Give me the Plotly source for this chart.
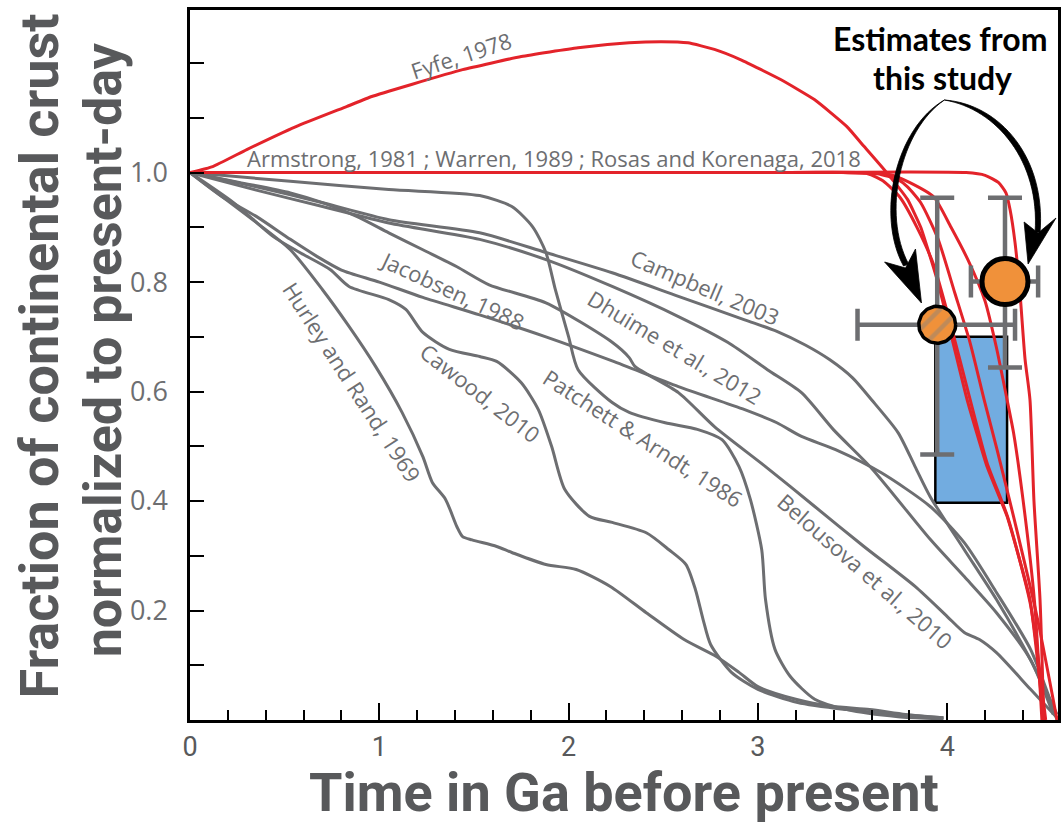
import plotly.graph_objects as go
import numpy as np

# ---------------- data (Ga before present, fraction of present-day crust) ----------------
hurley_x = [0, 0.35, 0.53, 0.70, 0.84, 0.98, 1.12, 1.23, 1.28, 1.35, 1.41, 1.44, 1.49, 1.62, 1.70, 1.88, 2.04, 2.22, 2.41, 2.61, 2.78, 2.90, 3.00, 3.20, 3.39, 3.59, 3.78, 3.98]
hurley_y = [1.0, 0.909, 0.859, 0.786, 0.719, 0.646, 0.562, 0.481, 0.434, 0.403, 0.353, 0.335, 0.329, 0.317, 0.306, 0.284, 0.275, 0.244, 0.196, 0.147, 0.116, 0.087, 0.061, 0.038, 0.025, 0.019, 0.010, 0.004]

cawood_x = [0, 0.23, 0.44, 0.58, 0.74, 0.84, 1.05, 1.14, 1.23, 1.37, 1.53, 1.62, 1.75, 1.84, 1.91, 1.98, 2.11, 2.23, 2.41, 2.53, 2.62, 2.67, 2.71, 2.75, 2.86, 3.00, 3.21, 3.47, 3.74, 3.98]
cawood_y = [1.0, 0.945, 0.883, 0.854, 0.823, 0.792, 0.768, 0.750, 0.708, 0.677, 0.664, 0.655, 0.616, 0.567, 0.500, 0.421, 0.372, 0.361, 0.342, 0.311, 0.284, 0.238, 0.184, 0.138, 0.087, 0.056, 0.032, 0.019, 0.010, 0.004]

jacobsen_x = [0, 0.17, 0.35, 0.53, 0.67, 0.80, 1.00, 1.23, 1.53, 1.88, 2.23, 2.58, 2.93, 3.10, 3.23, 3.41, 3.65, 3.91, 4.09, 4.26, 4.44, 4.54, 4.58]
jacobsen_y = [1.0, 0.956, 0.920, 0.878, 0.847, 0.822, 0.800, 0.772, 0.740, 0.700, 0.656, 0.609, 0.567, 0.543, 0.518, 0.494, 0.452, 0.390, 0.324, 0.233, 0.129, 0.040, 0.0]

belousova_x = [0, 0.26, 0.53, 0.70, 0.88, 1.05, 1.23, 1.41, 1.58, 1.88, 2.23, 2.32, 2.35, 2.58, 2.77, 3.04, 3.30, 3.56, 3.83, 4.00, 4.09, 4.17, 4.26, 4.44, 4.58]
belousova_y = [1.0, 0.982, 0.963, 0.945, 0.920, 0.890, 0.859, 0.828, 0.795, 0.762, 0.690, 0.662, 0.646, 0.598, 0.536, 0.463, 0.390, 0.317, 0.244, 0.189, 0.160, 0.147, 0.123, 0.056, 0.004]

campbell_x = [0, 0.35, 0.70, 1.05, 1.53, 1.88, 2.23, 2.58, 2.93, 3.10, 3.25, 3.38, 3.50, 3.60, 3.74, 3.83, 3.91, 4.09, 4.26, 4.44, 4.58]
campbell_y = [1.0, 0.974, 0.945, 0.914, 0.890, 0.854, 0.817, 0.774, 0.731, 0.710, 0.685, 0.658, 0.625, 0.585, 0.525, 0.463, 0.408, 0.311, 0.220, 0.110, 0.010]

dhuime_x = [0, 0.35, 0.70, 1.05, 1.53, 1.88, 2.23, 2.58, 2.84, 3.05, 3.23, 3.40, 3.60, 3.91, 4.09, 4.26, 4.44, 4.56]
dhuime_y = [1.0, 0.968, 0.938, 0.908, 0.878, 0.841, 0.792, 0.737, 0.690, 0.640, 0.598, 0.530, 0.460, 0.330, 0.262, 0.196, 0.110, 0.010]

patchett_x = [0, 0.53, 1.05, 1.53, 1.70, 1.81, 1.88, 1.93, 2.00, 2.05, 2.23, 2.32, 2.51, 2.68, 2.81, 2.90, 2.96, 3.02, 3.04, 3.09, 3.17, 3.30, 3.47, 3.74, 3.98]
patchett_y = [1.0, 0.984, 0.969, 0.958, 0.938, 0.901, 0.854, 0.786, 0.700, 0.640, 0.580, 0.562, 0.543, 0.531, 0.512, 0.463, 0.403, 0.311, 0.220, 0.129, 0.080, 0.038, 0.019, 0.006, 0.002]

fyfe_x = [0, 0.12, 0.30, 0.56, 0.83, 0.96, 1.17, 1.44, 1.75, 2.05, 2.32, 2.49, 2.63, 2.77, 2.91, 3.12, 3.30, 3.47, 3.56, 3.68, 3.79, 3.86, 3.95, 4.03, 4.105, 4.21, 4.316, 4.437, 4.51]
fyfe_y = [1.0, 1.011, 1.042, 1.084, 1.121, 1.139, 1.161, 1.188, 1.212, 1.228, 1.237, 1.239, 1.237, 1.225, 1.206, 1.170, 1.133, 1.084, 1.048, 1.0, 0.951, 0.900, 0.800, 0.690, 0.585, 0.463, 0.372, 0.220, 0.0]

armstrong_x = [0, 1.5, 3.0, 3.40, 3.58, 3.66, 3.75, 3.84, 3.93, 4.02, 4.11, 4.21, 4.32, 4.44, 4.52]
armstrong_y = [1.0, 1.0, 1.0, 1.0, 0.998, 0.985, 0.955, 0.900, 0.830, 0.720, 0.600, 0.470, 0.370, 0.210, 0.0]

warren_x = [0, 1.5, 3.0, 3.45, 3.63, 3.74, 3.79, 3.86, 3.95, 4.04, 4.12, 4.195, 4.263, 4.35, 4.474, 4.58]
warren_y = [1.0, 1.0, 1.0, 1.0, 0.998, 0.987, 0.974, 0.945, 0.880, 0.780, 0.690, 0.585, 0.494, 0.372, 0.189, 0.0]

rosas_a_x = [0, 1.5, 3.0, 3.55, 3.70, 3.80, 3.93, 4.02, 4.11, 4.20, 4.26, 4.316, 4.35, 4.40, 4.46, 4.50]
rosas_a_y = [1.0, 1.0, 1.0, 1.0, 0.996, 0.982, 0.955, 0.900, 0.840, 0.765, 0.680, 0.585, 0.525, 0.403, 0.220, 0.0]

rosas_b_x = [0, 1.5, 3.0, 4.10, 4.20, 4.27, 4.31, 4.332, 4.358, 4.384, 4.411, 4.437, 4.458, 4.49, 4.51]
rosas_b_y = [1.0, 1.0, 1.0, 1.0, 0.995, 0.982, 0.963, 0.932, 0.872, 0.781, 0.659, 0.585, 0.400, 0.220, 0.0]

# estimates from this study
est_x = [3.947, 4.305]
est_y = [0.722, 0.801]
est_x_minus = [0.421, 0.180]
est_x_plus = [0.411, 0.175]
est_y_minus = [0.237, 0.157]
est_y_plus = [0.232, 0.153]
box_x = [3.937, 4.316]
box_y = [0.397, 0.700]

x_ticks = [0, 1, 2, 3, 4]
y_ticks = [0.1, 0.2, 0.3, 0.4, 0.5, 0.6, 0.7, 0.8, 0.9, 1.0, 1.1, 1.2]
y_ticktext = ['', '0.2', '', '0.4', '', '0.6', '', '0.8', '', '1.0', '', '']

# ---------------- layout constants ----------------
W, H = 1063, 830
L, R, T, B = 190, 2, 10, 110
X_MAX, Y_MAX = 4.585, 1.297
PW, PH = W - L - R, H - T - B

GRAY = '#6d6e71'
RED = '#e3232a'
TITLE_GRAY = '#58595b'
TITLE_FONT = 'Roboto, sans-serif'
LABEL_FONT = 'Open Sans, Noto Sans, sans-serif'


def P(px, py):
    """pixel (page) position -> data coordinates (for decorations only)"""
    return ((px - L) / PW * X_MAX, (H - B - py) / PH * Y_MAX)


def path_str(cmds):
    out = []
    for c in cmds:
        if isinstance(c, str):
            out.append(c)
        else:
            x, y = P(*c)
            out.append(f"{x:.5f},{y:.5f}")
    return ' '.join(out)


fig = go.Figure()

gray_series = [
    (hurley_x, hurley_y), (cawood_x, cawood_y), (jacobsen_x, jacobsen_y),
    (belousova_x, belousova_y), (campbell_x, campbell_y), (dhuime_x, dhuime_y),
    (patchett_x, patchett_y),
]
for xs, ys in gray_series:
    fig.add_trace(go.Scatter(x=xs, y=ys, mode='lines',
                             line=dict(color=GRAY, width=3, shape='spline', smoothing=0.7),
                             hoverinfo='skip'))

red_series = [(armstrong_x, armstrong_y), (warren_x, warren_y), (rosas_a_x, rosas_a_y),
              (rosas_b_x, rosas_b_y)]
for xs, ys in red_series:
    fig.add_trace(go.Scatter(x=xs, y=ys, mode='lines',
                             line=dict(color=RED, width=3, shape='spline', smoothing=0.6),
                             hoverinfo='skip'))
fig.add_trace(go.Scatter(x=fyfe_x, y=fyfe_y, mode='lines',
                         line=dict(color=RED, width=3, shape='spline', smoothing=0.4),
                         hoverinfo='skip'))

# error bars
fig.add_trace(go.Scatter(
    x=est_x, y=est_y, mode='markers',
    marker=dict(size=1, color='rgba(0,0,0,0)'),
    error_x=dict(type='data', symmetric=False, array=est_x_plus, arrayminus=est_x_minus,
                 color=GRAY, thickness=4.5, width=16),
    error_y=dict(type='data', symmetric=False, array=est_y_plus, arrayminus=est_y_minus,
                 color=GRAY, thickness=4.5, width=17),
    hoverinfo='skip'))

# hatched small circle (polygon so that it can carry a fill pattern)
r_px = 18.5
t = np.linspace(0, 2 * np.pi, 73)
cx, cy = est_x[0], est_y[0]
circ_x = cx + r_px / PW * X_MAX * np.cos(t)
circ_y = cy + r_px / PH * Y_MAX * np.sin(t)
fig.add_trace(go.Scatter(
    x=circ_x, y=circ_y, mode='lines', fill='toself',
    fillcolor='#f0913a',
    fillpattern=dict(shape='/', fgcolor='#8e8478', bgcolor='#f0913a', size=14, solidity=0.32),
    line=dict(color='black', width=3.5), hoverinfo='skip'))

# big circle
fig.add_trace(go.Scatter(
    x=[est_x[1]], y=[est_y[1]], mode='markers',
    marker=dict(size=46, color='#f0913a', line=dict(color='black', width=5)),
    hoverinfo='skip'))

shapes = []
# blue box
shapes.append(dict(type='rect', xref='x', yref='y', x0=box_x[0], x1=box_x[1], y0=box_y[0], y1=box_y[1],
                   fillcolor='#72ace0', line=dict(color='black', width=2.5), layer='below'))

# curved arrows (tapered shafts + barbed heads)
left_shaft = path_str(['M', (947, 100), 'C', (898, 128), (878, 215), (906, 266), 'L', (911, 264),
                       'C', (884, 213), (903, 130), (947, 100), 'Z'])
right_shaft = path_str(['M', (947, 100), 'C', (1003, 104), (1049, 158), (1043, 232), 'L', (1038, 232),
                        'C', (1043, 162), (1000, 109), (947, 100), 'Z'])
left_head = path_str(['M', (887, 262), 'L', (924, 303), 'L', (918, 249), 'L', (908, 268), 'Z'])
right_head = path_str(['M', (1027, 222), 'L', (1031, 264), 'L', (1059, 218), 'L', (1041, 233), 'Z'])
for pth in (left_shaft, right_shaft, left_head, right_head):
    shapes.append(dict(type='path', xref='x', yref='y', path=pth, fillcolor='black',
                       line=dict(color='black', width=0.8)))

annotations = []
curve_labels = [
    ('Fyfe, 1978', 462, 55, -18),
    ('Armstrong, 1981 ; Warren, 1989 ; Rosas and Korenaga, 2018', 555, 158, 0),
    ('Campbell, 2003', 707, 287, 23),
    ('Dhuime et al., 2012', 677, 347, 31),
    ('Jacobsen, 1988', 453, 290, 25),
    ('Hurley and Rand, 1969', 353, 382, 57),
    ('Cawood, 2010', 482, 393, 38),
    ('Patchett &amp; Arndt, 1986', 645, 438, 33),
    ('Belousova et al., 2010', 868, 571, 41),
]
for txt, px, py, ang in curve_labels:
    xd, yd = P(px, py)
    annotations.append(dict(x=xd, y=yd, xref='x', yref='y', text=txt, showarrow=False,
                            textangle=ang, xanchor='center', yanchor='middle',
                            font=dict(family=LABEL_FONT, size=22, color=GRAY)))

for txt, px, py in (('Estimates from', 943, 38), ('this study', 945, 77)):
    xd, yd = P(px, py)
    annotations.append(dict(x=xd, y=yd, xref='x', yref='y', text=f'<b>{txt}</b>', showarrow=False,
                            xanchor='center', yanchor='middle',
                            font=dict(family='Lato, sans-serif', size=32, color='black')))

# axis titles
annotations.append(dict(x=0.5, y=(H - B - 792) / PH, xref='paper', yref='paper',
                        text='<b>Time in Ga before present</b>', showarrow=False,
                        xanchor='center', yanchor='middle',
                        font=dict(family=TITLE_FONT, size=54, color=TITLE_GRAY)))
annotations.append(dict(x=(38 - L) / PW, y=(H - B - 356) / PH, xref='paper', yref='paper',
                        text='<b>Fraction of continental crust</b>', showarrow=False, textangle=-90,
                        xanchor='center', yanchor='middle',
                        font=dict(family=TITLE_FONT, size=54, color=TITLE_GRAY)))
annotations.append(dict(x=(103 - L) / PW, y=(H - B - 350) / PH, xref='paper', yref='paper',
                        text='<b>normalized to present-day</b>', showarrow=False, textangle=-90,
                        xanchor='center', yanchor='middle',
                        font=dict(family=TITLE_FONT, size=52, color=TITLE_GRAY)))

fig.update_layout(
    width=W, height=H,
    margin=dict(l=L, r=R, t=T, b=B),
    plot_bgcolor='white', paper_bgcolor='white',
    showlegend=False,
    shapes=shapes,
    annotations=annotations,
    xaxis=dict(range=[0, X_MAX], showline=True, linecolor='black', linewidth=2.5, mirror=True,
               ticks='inside', ticklen=17, tickwidth=2, tickcolor='black',
               tickvals=x_ticks, ticktext=[str(v) for v in x_ticks],
               tickfont=dict(family='Roboto, sans-serif', size=27, color=TITLE_GRAY),
               ticklabelstandoff=1,
               minor=dict(ticks='inside', ticklen=10, tickwidth=2, tickcolor='black',
                          dtick=0.2, tick0=0, showgrid=False),
               showgrid=False, zeroline=False, fixedrange=True),
    yaxis=dict(range=[0, Y_MAX], showline=True, linecolor='black', linewidth=2.5, mirror=True,
               ticks='inside', ticklen=14, tickwidth=2, tickcolor='black',
               tickvals=y_ticks, ticktext=y_ticktext,
               tickfont=dict(family=LABEL_FONT, size=27, color=GRAY),
               ticklabelstandoff=14,
               showgrid=False, zeroline=False, fixedrange=True),
)

fig.write_html('out.html')
